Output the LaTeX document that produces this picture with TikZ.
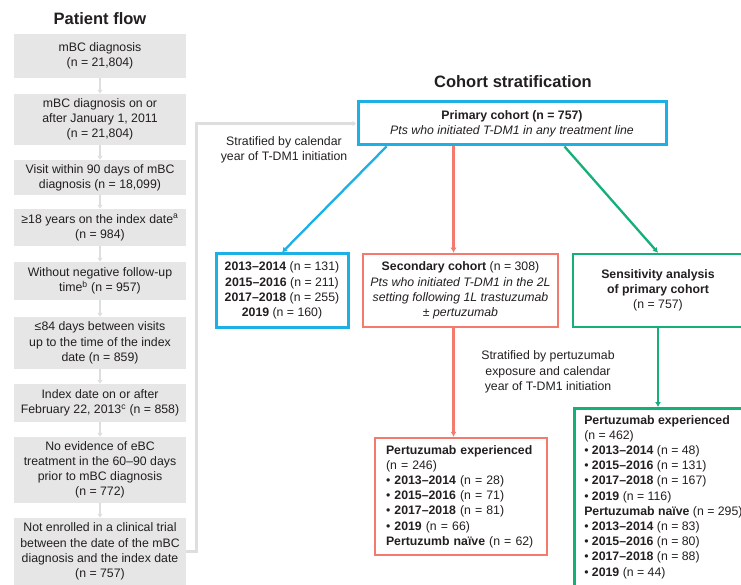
\documentclass[tikz,border=0pt]{standalone}
\usepackage{amsmath}
\usepackage{fontspec}
\setmainfont{Liberation Sans}
\usetikzlibrary{arrows.meta}
\definecolor{boxgray}{HTML}{E6E6E6}
\definecolor{linkgray}{HTML}{DEDEDE}
\definecolor{textgray}{HTML}{231F20}
\definecolor{cohblue}{HTML}{1CB0E5}
\definecolor{cohred}{HTML}{F47A6D}
\definecolor{cohgreen}{HTML}{15AF78}

\begin{document}
\begin{tikzpicture}[x=1pt,y=-1pt,
  txt/.style={font=\fontsize{12.3}{15.2}\selectfont,text=textgray},
  title/.style={font=\fontsize{16.5}{19}\selectfont\bfseries,text=textgray},
  flow/.style={txt,fill=boxgray,minimum width=172pt,inner sep=0pt,align=center},
  cohort/.style={txt,draw=#1,line width=2.5pt,inner sep=0pt,align=center,minimum height=73pt},
  grayarrow/.style={linkgray,line width=2.6pt,-{Latex[length=4pt,width=6pt]}},
  colorline/.style={#1,line width=2.3pt,-{Latex[length=5pt,width=6pt]}}]
\useasboundingbox (0,0) rectangle (741,585);
% patient flow
\node[title] (T1) at (100,19) {Patient flow};
\node[flow,minimum height=44pt] (F1) at (100,56) {mBC diagnosis\\(n = 21,804)};
\node[flow,minimum height=51pt] (F2) at (100,119.5) {mBC diagnosis on or\\after January 1, 2011\\(n = 21,804)};
\node[flow,minimum height=35pt] (F3) at (100,177.5) {Visit within 90 days of mBC\\diagnosis (n = 18,099)};
\node[flow,minimum height=37pt] (F4) at (100,227.5) {≥18 years on the index date\textsuperscript{a}\\(n = 984)};
\node[flow,minimum height=38pt] (F5) at (100,281) {Without negative follow-up\\time\textsuperscript{b} (n = 957)};
\node[flow,minimum height=52pt] (F6) at (100,343) {≤84 days between visits\\up to the time of the index\\date (n = 859)};
\node[flow,minimum height=38pt] (F7) at (100,403) {Index date on or after\\February 22, 2013\textsuperscript{c} (n = 858)};
\node[flow,minimum height=66pt] (F8) at (100,470) {No evidence of eBC\\treatment in the 60–90 days\\prior to mBC diagnosis\\(n = 772)};
\node[flow,minimum height=67pt] (F9) at (100,551.5) {Not enrolled in a clinical trial\\between the date of the mBC\\diagnosis and the index date\\(n = 757)};
\foreach \a/\b in {F1/F2,F2/F3,F3/F4,F4/F5,F5/F6,F6/F7,F7/F8,F8/F9}
  \draw[grayarrow] (\a) -- (\b);

% cohort stratification
\node[title] (T2) at (513,82) {Cohort stratification};
\node[cohort=cohblue,line width=3pt,minimum width=308pt,minimum height=43pt] (P) at (512,123.5)
  {\textbf{Primary cohort (n = 757)}\\\textit{Pts who initiated T-DM1 in any treatment line}};
\draw[grayarrow] (F9.east) -- ++(10,0) |- (P.west);
\node[txt,align=center] (L1) at (284,150) {Stratified by calendar\\year of T-DM1 initiation};

\node[cohort=cohblue,line width=3pt,minimum width=132pt] (Y) at (282,290.5)
  {\textbf{2013–2014} (n = 131)\\\textbf{2015–2016} (n = 211)\\\textbf{2017–2018} (n = 255)\\\textbf{2019} (n = 160)};
\node[cohort=cohred,minimum width=195pt] (S) at (460.5,290.5)
  {\textbf{Secondary cohort} (n = 308)\\\textit{Pts who initiated T-DM1 in the 2L}\\\textit{setting following 1L trastuzumab}\\\textit{± pertuzumab}};
\node[cohort=cohgreen,minimum width=170pt] (V) at (658,290.5)
  {\textbf{Sensitivity analysis}\\\textbf{of primary cohort}\\(n = 757)};

\node[txt,align=center] (L2) at (548,372) {Stratified by pertuzumab\\exposure and calendar\\year of T-DM1 initiation};

\node[txt,draw=cohred,line width=2.5pt,text width=150pt,inner xsep=11pt,inner ysep=0pt,minimum height=117pt,align=left] (E) at (461,496.5)
  {\textbf{Pertuzumab experienced}\\(n = 246)\\• \textbf{2013–2014} (n = 28)\\• \textbf{2015–2016} (n = 71)\\• \textbf{2017–2018} (n = 81)\\• \textbf{2019} (n = 66)\\\textbf{Pertuzumb naïve} (n = 62)};
\node[txt,draw=cohgreen,line width=2.5pt,inner xsep=10pt,inner ysep=7pt,align=left,anchor=north west] (G) at (573,407)
  {\textbf{Pertuzumab experienced}\\(n = 462)\\• \textbf{2013–2014} (n = 48)\\• \textbf{2015–2016} (n = 131)\\• \textbf{2017–2018} (n = 167)\\• \textbf{2019} (n = 116)\\\textbf{Pertuzumab naïve} (n = 295)\\• \textbf{2013–2014} (n = 83)\\• \textbf{2015–2016} (n = 80)\\• \textbf{2017–2018} (n = 88)\\• \textbf{2019} (n = 44)\\\mbox{}};

\coordinate (Pb) at ([xshift=30pt]P.south west);
\coordinate (Pr) at ([xshift=97pt]P.south west);
\coordinate (Pg) at ([xshift=-103pt]P.south east);
\draw[colorline=cohblue] (Pb) -- (Y.north);
\draw[colorline=cohred] (Pr) -- (Pr |- S.north);
\draw[colorline=cohred] (Pr |- S.south) -- (Pr |- E.north);
\draw[colorline=cohgreen] (Pg) -- (V.north);
\draw[colorline=cohgreen] (V.south) -- (V.south |- G.north);
\end{tikzpicture}
\end{document}
